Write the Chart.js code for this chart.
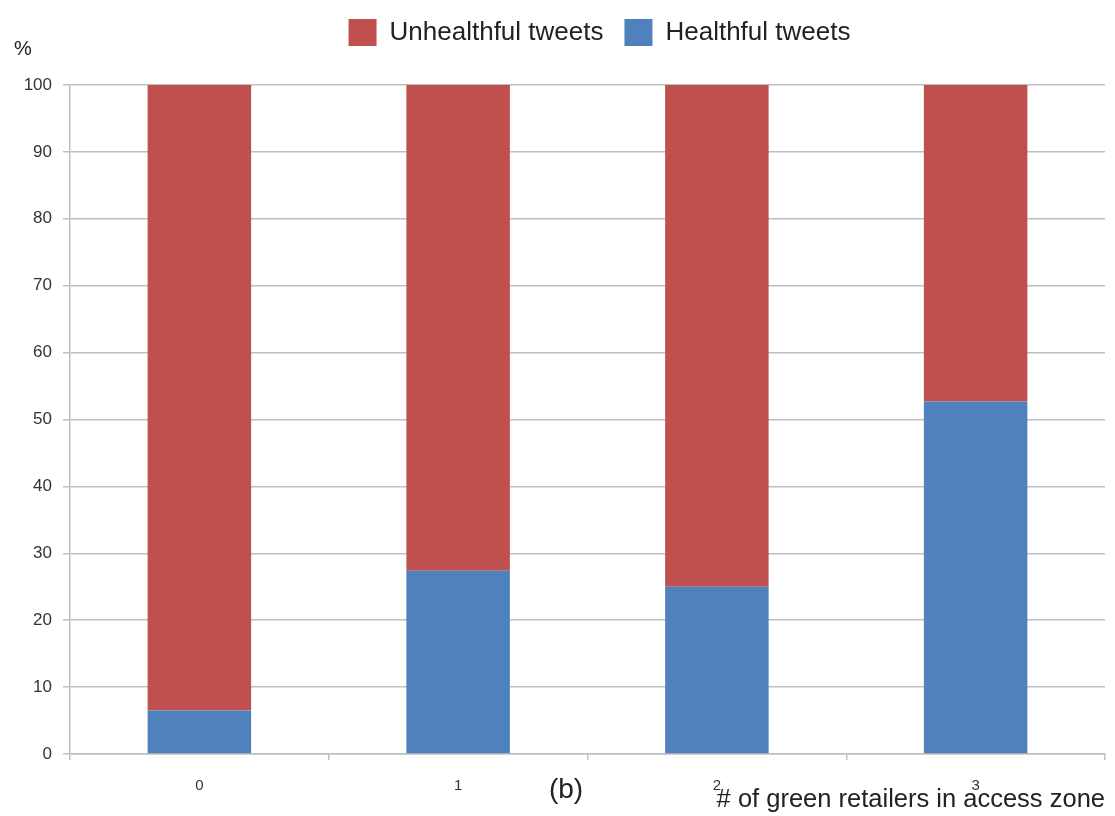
<!DOCTYPE html>
<html>
<head>
<meta charset="utf-8">
<script src="https://cdn.jsdelivr.net/npm/chart.js@4/dist/chart.umd.min.js"></script>
<style>
  html, body { margin: 0; padding: 0; background: #ffffff; }
  canvas { display: block; }
</style>
</head>
<body>
<canvas id="c" width="1115" height="816"></canvas>
<script>
const categories = ['0', '1', '2', '3'];
const healthful = [6.5, 27.4, 25.0, 52.7];
const unhealthful = [93.5, 72.6, 75.0, 47.3];
const yTickValues = [0, 10, 20, 30, 40, 50, 60, 70, 80, 90, 100];
const xTitle = '# of green retailers in access zone';
const yUnit = '%';
const caption = '(b)';

const FONT = '"Liberation Sans", Arial, Helvetica, sans-serif';
const GRID = '#bfbfbf';

const extraText = {
  id: 'extraText',
  afterLayout(chart) {
    const lg = chart.legend;
    if (lg) { lg.left += 47; lg.right += 47; lg.top -= 29; lg.bottom -= 29; }
  },
  afterDraw(chart) {
    const ctx = chart.ctx;
    ctx.save();
    ctx.fillStyle = '#222';
    ctx.textBaseline = 'middle';
    ctx.textAlign = 'center';
    ctx.font = '20px ' + FONT;
    ctx.fillText(yUnit, 23, 49);
    ctx.font = '28px ' + FONT;
    ctx.fillText(caption, 566, 790);
    ctx.restore();
  }
};

new Chart(document.getElementById('c'), {
  type: 'bar',
  data: {
    labels: categories,
    datasets: [
      { label: 'Healthful tweets', data: healthful, backgroundColor: '#4F81BD', borderWidth: 0 },
      { label: 'Unhealthful tweets', data: unhealthful, backgroundColor: '#C0504D', borderWidth: 0 }
    ]
  },
  options: {
    responsive: false,
    animation: false,
    layout: { padding: { top: 0, left: 0, right: 10, bottom: 0 } },
    datasets: { bar: { categoryPercentage: 1.0, barPercentage: 0.4 } },
    plugins: {
      legend: {
        position: 'top',
        reverse: true,
        labels: {
          boxWidth: 28, boxHeight: 27, padding: 21,
          color: '#222',
          font: { family: FONT, size: 26 }
        }
      },
      tooltip: { enabled: false },
      title: { display: false }
    },
    scales: {
      x: {
        stacked: true,
        offset: true,
        grid: { display: true, drawOnChartArea: false, drawTicks: true, tickLength: 6, offset: true, color: GRID, lineWidth: 1.5 },
        border: { display: true, color: GRID, width: 1.5 },
        ticks: { color: '#333', padding: 17, font: { family: FONT, size: 15 } },
        title: { display: true, text: xTitle, align: 'end', color: '#222', font: { family: FONT, size: 25.5 }, padding: { top: 0, bottom: 1 } },
        afterFit(s) { s.height = 62; }
      },
      y: {
        stacked: true,
        min: 0, max: 100,
        afterBuildTicks(s) { s.ticks = yTickValues.map(v => ({ value: v })); },
        grid: { color: GRID, lineWidth: 1.5, tickLength: 7, drawTicks: true },
        border: { display: true, color: GRID, width: 1.5 },
        ticks: { color: '#333', padding: 11, font: { family: FONT, size: 17 } },
        afterFit(s) { s.width = 70; s.paddingTop = 85; }
      }
    }
  },
  plugins: [extraText]
});
</script>
</body>
</html>
